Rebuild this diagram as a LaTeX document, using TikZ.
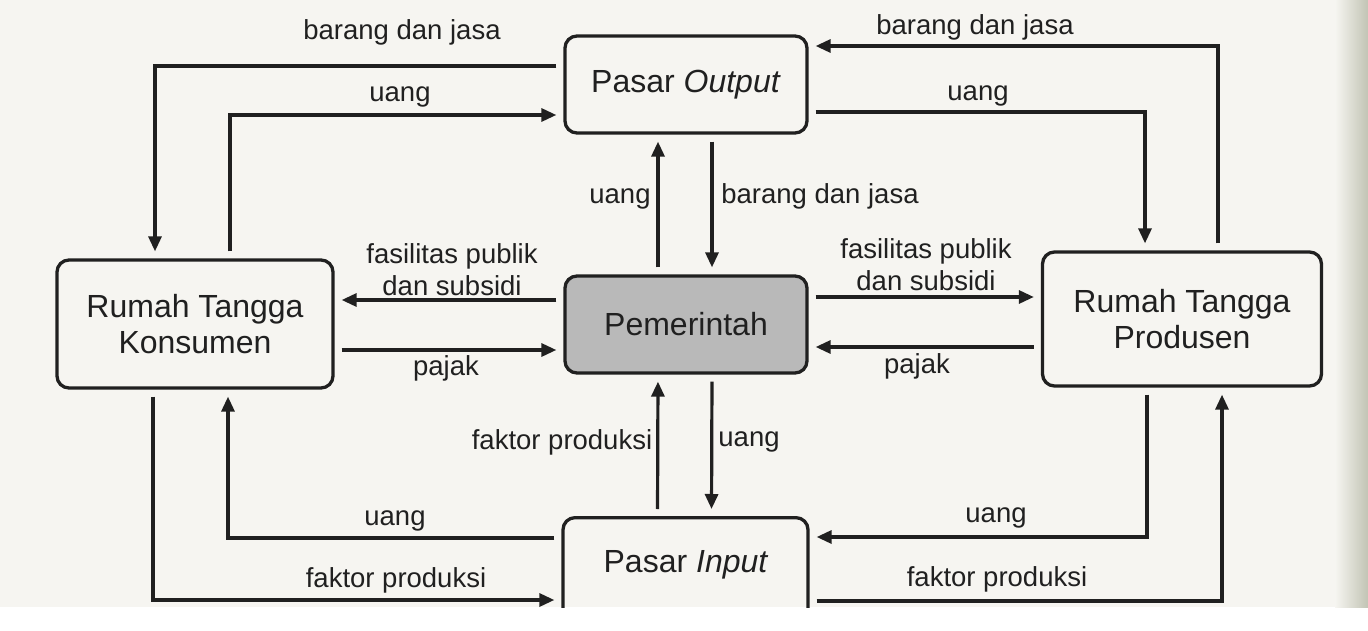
\documentclass[tikz,border=0pt]{standalone}
\usepackage{fontspec}
\setmainfont{Liberation Sans}
\usetikzlibrary{arrows.meta}
\definecolor{ink}{HTML}{202020}
\definecolor{paper}{HTML}{F6F5F1}
\definecolor{shadow}{HTML}{C2C4B4}
\begin{document}
\begin{tikzpicture}[x=1pt,y=-1pt,
  box/.style={draw=ink,line width=3.3pt,rounded corners=12pt,inner sep=0pt,
    font=\fontsize{32}{36}\selectfont,text=ink,align=center},
  lbl/.style={font=\fontsize{27.5}{32}\selectfont,text=ink,align=center,inner sep=0pt},
  arr/.style={draw=ink,line width=3.2pt,-{Triangle[length=15pt,width=13pt]},
    shorten <=7pt,shorten >=7pt}]
\useasboundingbox (0,0) rectangle (1368,631);
\fill[white] (0,0) rectangle (1368,631);
\fill[paper] (0,0) rectangle (1368,607);
\shade[left color=paper,right color=shadow] (1335,0) rectangle (1368,607);

% boxes
\node[box,minimum width=242pt,minimum height=97pt] (out) at (686,84.5) {Pasar \textit{Output}};
\node[box,minimum width=276pt,minimum height=128pt] (rtk) at (195,324) {Rumah Tangga\\Konsumen};
\node[box,minimum width=242pt,minimum height=97pt,fill=gray!55] (gov) at (686,324.5) {Pemerintah};
\node[box,minimum width=279pt,minimum height=134pt] (rtp) at (1182,319) {Rumah Tangga\\Produsen};
\begin{scope}
\clip (0,0) rectangle (1368,607);
\node[box,minimum width=245pt,minimum height=140pt,anchor=north] (inp) at (685.5,516) {};
\end{scope}
\node[font=\fontsize{32}{36}\selectfont,text=ink,inner sep=0pt] (inptxt) at (686,565) {Pasar \textit{Input}};

% top-left loop
\draw[arr] (out.west |- 0,66) -| ([xshift=-40pt]rtk.north);
\draw[arr] ([xshift=35pt]rtk.north) |- (out.west |- 0,115);
% top-right loop
\draw[arr] ([xshift=36pt]rtp.north) |- (out.east |- 0,46);
\draw[arr] (out.east |- 0,112) -| ([xshift=-37pt]rtp.north);
% output <-> government
\draw[arr] ([xshift=-28pt]gov.north) -- ([xshift=-28pt]out.south);
\draw[arr] ([xshift=26pt]out.south) -- ([xshift=26pt]gov.north);
% government <-> households
\draw[arr] (gov.west |- 0,300) -- (rtk.east |- 0,300);
\draw[arr] (rtk.east |- 0,350) -- (gov.west |- 0,350);
\draw[arr] (gov.east |- 0,297) -- (rtp.west |- 0,297);
\draw[arr] (rtp.west |- 0,347) -- (gov.east |- 0,347);
% government <-> input
\draw[arr] ([xshift=-28pt]inp.north) -- ([xshift=-28pt]gov.south);
\draw[arr] ([xshift=26pt]gov.south) -- ([xshift=26pt]inp.north);
% bottom-left loop
\draw[arr] (inp.west |- 0,538) -| ([xshift=33pt]rtk.south);
\draw[arr] ([xshift=-42pt]rtk.south) |- (inp.west |- 0,600);
% bottom-right loop
\draw[arr] ([xshift=-35pt]rtp.south) |- (inp.east |- 0,537);
\draw[arr] (inp.east |- 0,601) -| ([xshift=40pt]rtp.south);

% labels
\node[lbl] (l1) at (402,32) {barang dan jasa};
\node[lbl] (l2) at (400,97) {uang};
\node[lbl] (l3) at (975,27) {barang dan jasa};
\node[lbl] (l4) at (978,96) {uang};
\node[lbl] (l5) at (620,199) {uang};
\node[lbl] (l6) at (820,196) {barang dan jasa};
\node[lbl] (l7) at (452,270) {fasilitas publik\\dan subsidi};
\node[lbl] (l8) at (446,368) {pajak};
\node[lbl] (l9) at (926,265) {fasilitas publik\\dan subsidi};
\node[lbl] (l10) at (917,366) {pajak};
\node[lbl] (l11) at (562,442) {faktor produksi};
\node[lbl] (l12) at (749,442) {uang};
\node[lbl] (l13) at (395,521) {uang};
\node[lbl] (l14) at (396,580) {faktor produksi};
\node[lbl] (l15) at (996,518) {uang};
\node[lbl] (l16) at (997,579) {faktor produksi};
\end{tikzpicture}
\end{document}
